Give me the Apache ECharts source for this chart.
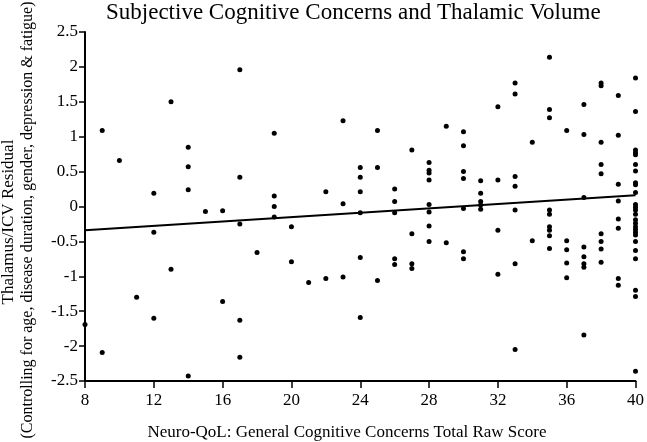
<!DOCTYPE html>
<html>
<head>
<meta charset="utf-8">
<title>Subjective Cognitive Concerns and Thalamic Volume</title>
<script src="https://cdn.jsdelivr.net/npm/echarts@6/dist/echarts.min.js"></script>
<style>
  html, body { margin: 0; padding: 0; background: #fff; }
  #scatter { width: 647px; height: 442px; }
</style>
</head>
<body>
<div id="scatter"></div>
<script>
// Neuro-QoL score (x) and thalamus/ICV residual (y), one entry per subject
const scores = [
  8,
  9, 9,
  10,
  11,
  12, 12, 12,
  13, 13,
  14, 14, 14, 14,
  15,
  16, 16,
  17, 17, 17, 17, 17,
  18,
  19, 19, 19, 19,
  20, 20,
  21,
  22, 22,
  23, 23, 23,
  24, 24, 24, 24, 24, 24,
  25, 25, 25,
  26, 26, 26, 26, 26,
  27, 27, 27, 27,
  28, 28, 28, 28, 28, 28, 28, 28,
  29, 29,
  30, 30, 30, 30, 30, 30, 30,
  31, 31, 31, 31, 31,
  32, 32, 32, 32,
  33, 33, 33, 33, 33, 33, 33,
  34, 34,
  35, 35, 35, 35, 35, 35, 35, 35, 35,
  36, 36, 36, 36, 36,
  37, 37, 37, 37, 37, 37, 37, 37,
  38, 38, 38, 38, 38, 38, 38, 38, 38,
  39, 39, 39, 39, 39, 39, 39, 39,
  40, 40, 40, 40, 40, 40, 40, 40, 40, 40, 40, 40, 40,
  40, 40, 40, 40, 40, 40, 40, 40, 40, 40, 40, 40, 40
]
const residuals = [
  -1.69,
  1.09, -2.09,
  0.66,
  -1.30,
  0.19, -0.37, -1.60,
  1.50, -0.90,
  0.85, 0.57, 0.24, -2.43,
  -0.07,
  -0.06, -1.36,
  1.96, 0.42, -0.25, -1.63, -2.16,
  -0.66,
  1.05, 0.15, 0.00, -0.15,
  -0.29, -0.79,
  -1.09,
  0.21, -1.03,
  1.23, 0.04, -1.01,
  0.56, 0.42, 0.21, -0.09, -0.73, -1.59,
  1.09, 0.56, -1.06,
  0.25, 0.07, -0.09, -0.75, -0.83,
  0.81, -0.39, -0.82, -0.89,
  0.63, 0.52, 0.48, 0.38, 0.03, -0.08, -0.28, -0.50,
  1.15, -0.52,
  1.07, 0.87, 0.50, 0.40, -0.03, -0.65, -0.75,
  0.37, 0.19, 0.07, 0.02, -0.04,
  1.43, 0.38, -0.34, -0.97,
  1.77, 1.61, 0.43, 0.29, -0.05, -0.82, -2.05,
  0.92, -0.49,
  2.14, 1.39, 1.27, -0.05, -0.11, -0.29, -0.34, -0.42, -0.60,
  1.09, -0.49, -0.62, -0.81, -1.02,
  1.46, 1.03, 0.13, -0.58, -0.72, -0.82, -0.87, -1.84,
  1.77, 1.73, 0.92, 0.60, 0.47, -0.39, -0.50, -0.61, -0.80,
  1.59, 1.02, 0.32, 0.08, -0.18, -0.31, -1.03, -1.13,
  1.84, 1.36, 0.81, 0.77, 0.74, 0.60, 0.51, 0.34, 0.31, 0.20, 0.03, -0.01, -0.05,
  -0.11, -0.19, -0.24, -0.29, -0.33, -0.37, -0.41, -0.50, -0.63, -0.75, -1.20, -1.29, -2.36
]

// regression line end points
const fitX = [8, 40]
const fitY = [-0.34, 0.16]

// axis ticks
const xTicks = [8, 12, 16, 20, 24, 28, 32, 36, 40]
const yTicks = [-2.5, -2, -1.5, -1, -0.5, 0, 0.5, 1, 1.5, 2, 2.5]

const serif = '"Liberation Serif", "Times New Roman", serif'

function drawChart () {
  let myChart = echarts.init(document.getElementById('scatter'))
  let points = scores.map((s, i) => [s, residuals[i]])
  let fitLine = fitX.map((x, i) => [x, fitY[i]])

  myChart.setOption({
    animation: false,
    title: {
      text: 'Subjective Cognitive Concerns and Thalamic Volume',
      left: 106,
      top: 1,
      padding: 0,
      textStyle: {
        fontFamily: serif,
        fontWeight: 'normal',
        fontSize: 23,
        color: '#000'
      }
    },
    grid: {
      left: 85,
      right: 8,
      top: 32,
      bottom: 61
    },
    xAxis: {
      type: 'value',
      min: xTicks[0],
      max: xTicks[xTicks.length - 1],
      interval: xTicks[1] - xTicks[0],
      splitLine: { show: false },
      axisLine: { onZero: false, lineStyle: { color: '#000', width: 2 } },
      axisTick: { length: 7, lineStyle: { color: '#000', width: 1.5 } },
      axisLabel: {
        margin: 11,
        fontFamily: serif,
        fontSize: 17,
        color: '#000'
      }
    },
    yAxis: {
      type: 'value',
      min: yTicks[0],
      max: yTicks[yTicks.length - 1],
      interval: yTicks[1] - yTicks[0],
      splitLine: { show: false },
      axisLine: { show: true, onZero: false, lineStyle: { color: '#000', width: 2 } },
      axisTick: { show: true, length: 6, lineStyle: { color: '#000', width: 1.5 } },
      axisLabel: {
        margin: 7,
        fontFamily: serif,
        fontSize: 17,
        color: '#000'
      }
    },
    graphic: [
      {
        type: 'text',
        x: 9,
        y: 222,
        rotation: Math.PI / 2,
        style: {
          text: 'Thalamus/ICV Residual',
          fontFamily: serif,
          fontSize: 17,
          fill: '#000',
          textAlign: 'center',
          textVerticalAlign: 'middle'
        }
      },
      {
        type: 'text',
        x: 28,
        y: 220,
        rotation: Math.PI / 2,
        style: {
          text: '(Controlling for age, disease duration, gender, depression & fatigue)',
          fontFamily: serif,
          fontSize: 16,
          fill: '#000',
          textAlign: 'center',
          textVerticalAlign: 'middle'
        }
      },
      {
        type: 'text',
        x: 347,
        y: 433,
        style: {
          text: 'Neuro-QoL: General Cognitive Concerns Total Raw Score',
          fontFamily: serif,
          fontSize: 17,
          fill: '#000',
          textAlign: 'center',
          textVerticalAlign: 'middle'
        }
      }
    ],
    series: [
      {
        name: 'Subjects',
        type: 'scatter',
        data: points,
        symbol: 'circle',
        symbolSize: 5,
        clip: false,
        itemStyle: { color: '#000', opacity: 1 }
      },
      {
        name: 'Fit',
        type: 'line',
        data: fitLine,
        showSymbol: false,
        symbol: 'none',
        lineStyle: { color: '#000', width: 2 }
      }
    ]
  })
}

drawChart()
</script>
</body>
</html>
